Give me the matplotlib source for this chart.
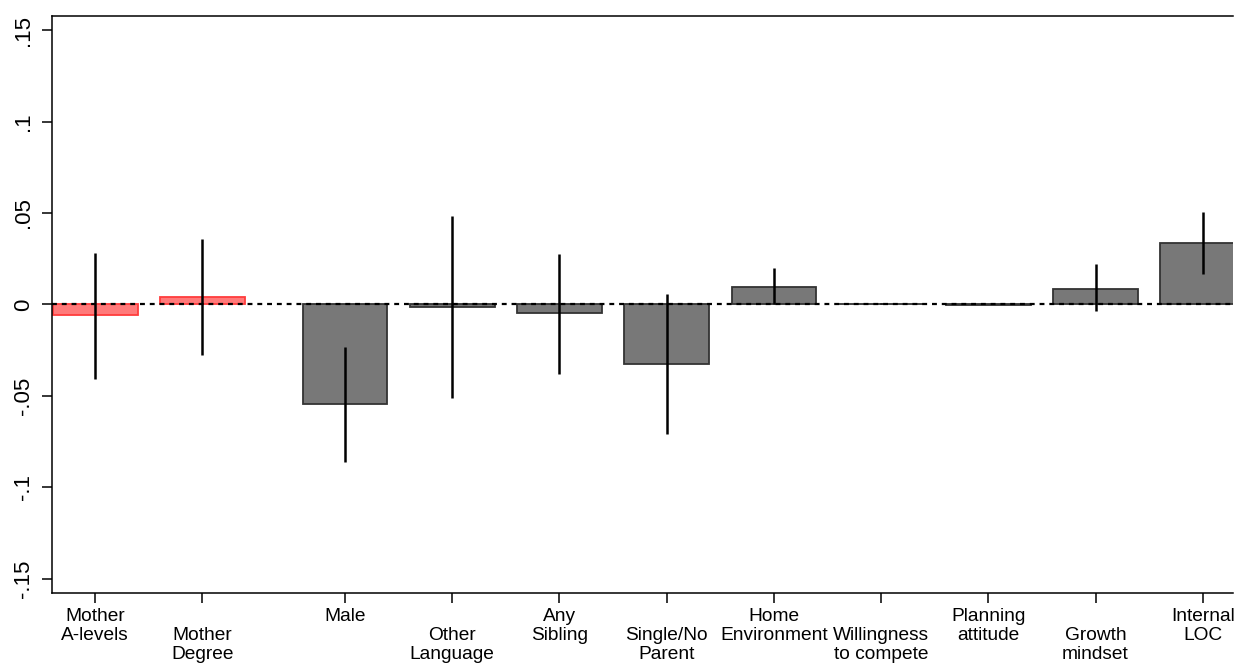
import matplotlib
matplotlib.use("Agg")
import matplotlib.pyplot as plt
import numpy as np

plt.rcParams['font.family'] = ['Liberation Sans', 'DejaVu Sans']

labels = ["Mother\nA-levels", "\nMother\nDegree", "Male", "\nOther\nLanguage",
          "Any\nSibling", "\nSingle/No\nParent", "Home\nEnvironment",
          "\nWillingness\nto compete", "Planning\nattitude", "\nGrowth\nmindset",
          "Internal\nLOC"]
positions = [0, 1, 2.33, 3.33, 4.33, 5.33, 6.33, 7.33, 8.33, 9.33, 10.33]
coef = [-0.0058, 0.0038, -0.0545, -0.0015, -0.0049, -0.0326, 0.0097,
        0.0004, -0.0003, 0.0086, 0.0335]
ci_low = [-0.0407, -0.0279, -0.0863, -0.0514, -0.0381, -0.0710, 0.0000,
          0.0002, -0.0005, -0.0038, 0.0169]
ci_high = [0.0282, 0.0357, -0.0235, 0.0482, 0.0275, 0.0056, 0.0200,
           0.0006, -0.0001, 0.0220, 0.0503]
highlight = [True, True, False, False, False, False, False, False, False, False, False]

fig = plt.figure(figsize=(12.34, 6.64), dpi=100)
ax = fig.add_axes([0.0424, 0.1065, 0.9566, 0.87])

fills = ['#ff7a7a' if h else '#787878' for h in highlight]
edges = ['#ff3c3c' if h else '#333333' for h in highlight]
ax.bar(positions, coef, width=0.79, color=fills, edgecolor=edges, linewidth=1.3, zorder=2)
ax.vlines(positions, ci_low, ci_high, color='black', linewidth=1.8, zorder=3)
ax.axhline(0, color='black', linestyle=(0, (2.2, 2.2)), linewidth=1.6, zorder=4)

ax.set_xlim(-0.40, 10.61)
ax.set_ylim(-0.158, 0.158)
ax.set_yticks([-0.15, -0.1, -0.05, 0, 0.05, 0.1, 0.15])
ax.set_yticklabels(['-.15', '-.1', '-.05', '0', '.05', '.1', '.15'],
                   rotation=90, va='center', fontsize=16)
ax.set_xticks(positions)
ax.set_xticklabels(labels, fontsize=13.8, linespacing=1.15)
ax.tick_params(axis='both', direction='out', length=7, width=1.1, color='black')
ax.tick_params(axis='x', pad=3.8)
ax.tick_params(axis='y', pad=6)

for s in ['left', 'bottom', 'top']:
    ax.spines[s].set_linewidth(1.1)
ax.spines['right'].set_visible(False)

fig.savefig("out.png", dpi=100)
